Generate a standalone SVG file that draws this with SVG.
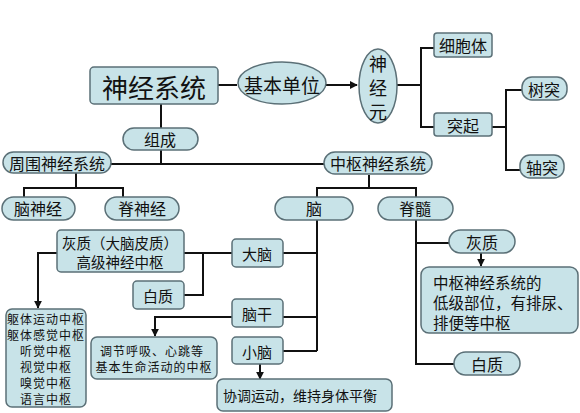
<svg xmlns="http://www.w3.org/2000/svg" width="580" height="413" viewBox="0 0 580 413">
<defs>
<style>
.n{fill:#c8e3e8;stroke:#5b7077;stroke-width:1.5}
.t{font-family:"Noto Sans CJK SC","Noto Sans",sans-serif;fill:#111;text-anchor:middle;dominant-baseline:central}
.l{fill:none;stroke:#111;stroke-width:2}
</style>
<marker id="a" viewBox="0 0 10 10" refX="9" refY="5" markerWidth="4" markerHeight="4" orient="auto"><path d="M0,0L10,5L0,10z" fill="#111"/></marker>
</defs>
<rect width="580" height="413" fill="#fff"/>
<g id="connectors">
<path class="l" d="M218,85H237"/>
<path class="l" d="M326,85H357" marker-end="url(#a)"/>
<path class="l" d="M397,85H421M434,48H421V127H434"/>
<path class="l" d="M492,127H506M522,90H506V170H520"/>
<path class="l" d="M161,104V128M161,150V164M111,164H325"/>
<path class="l" d="M76,173V188M24,197V188H123V197"/>
<path class="l" d="M369,175V188M317,197V188H416V197"/>
<path class="l" d="M317,220V351M283,253H317M283,317H317M283,351H317"/>
<path class="l" d="M232,253H184M184,295H203V253"/>
<path class="l" d="M57,253H38V308" marker-end="url(#a)"/>
<path class="l" d="M232,317H155V336" marker-end="url(#a)"/>
<path class="l" d="M260,364V379" marker-end="url(#a)"/>
<path class="l" d="M416,220V364H454M416,243H449"/>
<path class="l" d="M481,253V266" marker-end="url(#a)"/>
</g>
<g id="nervous-system"><rect class="n" x="90" y="67" width="128" height="37" rx="4"/><text class="t" x="154" y="86" font-size="26">神经系统</text></g>
<g id="basic-unit"><ellipse class="n" cx="282" cy="83" rx="44" ry="21"/><text class="t" x="282" y="84" font-size="19">基本单位</text></g>
<g id="neuron"><ellipse class="n" cx="378" cy="86" rx="19" ry="37"/><text class="t" x="378" font-size="18"><tspan x="378" y="63">神</tspan><tspan x="378" y="87">经</tspan><tspan x="378" y="111">元</tspan></text></g>
<g id="cell-body"><rect class="n" x="434" y="33" width="58" height="24" rx="3"/><text class="t" x="463" y="45" font-size="16">细胞体</text></g>
<g id="process"><rect class="n" x="434" y="113" width="58" height="23" rx="3"/><text class="t" x="463" y="125" font-size="16">突起</text></g>
<g id="dendrite"><rect class="n" x="522" y="77" width="45" height="23" rx="10"/><text class="t" x="544" y="89" font-size="16">树突</text></g>
<g id="axon"><rect class="n" x="520" y="155" width="44" height="23" rx="10"/><text class="t" x="542" y="167" font-size="16">轴突</text></g>
<g id="composition"><rect class="n" x="123" y="128" width="75" height="22" rx="11"/><text class="t" x="160" y="139" font-size="16">组成</text></g>
<g id="peripheral"><rect class="n" x="3" y="152" width="108" height="21" rx="10.5"/><text class="t" x="57" y="163" font-size="16">周围神经系统</text></g>
<g id="central"><rect class="n" x="324" y="152" width="108" height="22" rx="11"/><text class="t" x="378" y="163" font-size="16">中枢神经系统</text></g>
<g id="cranial-nerve"><rect class="n" x="2" y="197" width="73" height="23" rx="11.5"/><text class="t" x="38" y="208" font-size="16">脑神经</text></g>
<g id="spinal-nerve"><rect class="n" x="105" y="197" width="74" height="23" rx="11.5"/><text class="t" x="142" y="208" font-size="16">脊神经</text></g>
<g id="brain"><rect class="n" x="275" y="197" width="78" height="23" rx="11.5"/><text class="t" x="314" y="208" font-size="16">脑</text></g>
<g id="spinal-cord"><rect class="n" x="378" y="197" width="75" height="23" rx="11.5"/><text class="t" x="415" y="208" font-size="16">脊髓</text></g>
<g id="gray-matter-cortex"><rect class="n" x="57" y="230" width="127" height="42" rx="4"/><text class="t" font-size="14.5"><tspan x="120" y="242">灰质（大脑皮质）</tspan><tspan x="120" y="261">高级神经中枢</tspan></text></g>
<g id="cerebrum"><rect class="n" x="232" y="239" width="51" height="28" rx="4"/><text class="t" x="257" y="253" font-size="15">大脑</text></g>
<g id="white-matter-brain"><rect class="n" x="133" y="281" width="51" height="28" rx="4"/><text class="t" x="158" y="295" font-size="15">白质</text></g>
<g id="centers"><rect class="n" x="6" y="309" width="80" height="98" rx="6"/><text class="t" font-size="12" letter-spacing="1"><tspan x="46" y="318">躯体运动中枢</tspan><tspan x="46" y="334">躯体感觉中枢</tspan><tspan x="46" y="350">听觉中枢</tspan><tspan x="46" y="366">视觉中枢</tspan><tspan x="46" y="382">嗅觉中枢</tspan><tspan x="46" y="398">语言中枢</tspan></text></g>
<g id="brainstem"><rect class="n" x="232" y="299" width="51" height="28" rx="4"/><text class="t" x="257" y="313" font-size="15">脑干</text></g>
<g id="brainstem-function"><rect class="n" x="91" y="337" width="126" height="42" rx="6"/><text class="t" font-size="12" letter-spacing="1"><tspan x="152" y="350">调节呼吸、心跳等</tspan><tspan x="154" y="366">基本生命活动的中枢</tspan></text></g>
<g id="cerebellum"><rect class="n" x="232" y="337" width="51" height="27" rx="4"/><text class="t" x="257" y="351" font-size="15">小脑</text></g>
<g id="cerebellum-function"><rect class="n" x="217" y="379" width="175" height="32" rx="6"/><text class="t" x="300" y="395" font-size="14">协调运动，维持身体平衡</text></g>
<g id="gray-matter-cord"><rect class="n" x="449" y="230" width="66" height="23" rx="11.5"/><text class="t" x="482" y="242" font-size="16">灰质</text></g>
<g id="cord-function"><rect class="n" x="421" y="267" width="157" height="66" rx="8"/><text class="t" font-size="15.5" style="text-anchor:start"><tspan x="433" y="282">中枢神经系统的</tspan><tspan x="433" y="302">低级部位，有排尿、</tspan><tspan x="433" y="322">排便等中枢</tspan></text></g>
<g id="white-matter-cord"><rect class="n" x="454" y="352" width="66" height="23" rx="11.5"/><text class="t" x="487" y="364" font-size="16">白质</text></g>
</svg>
